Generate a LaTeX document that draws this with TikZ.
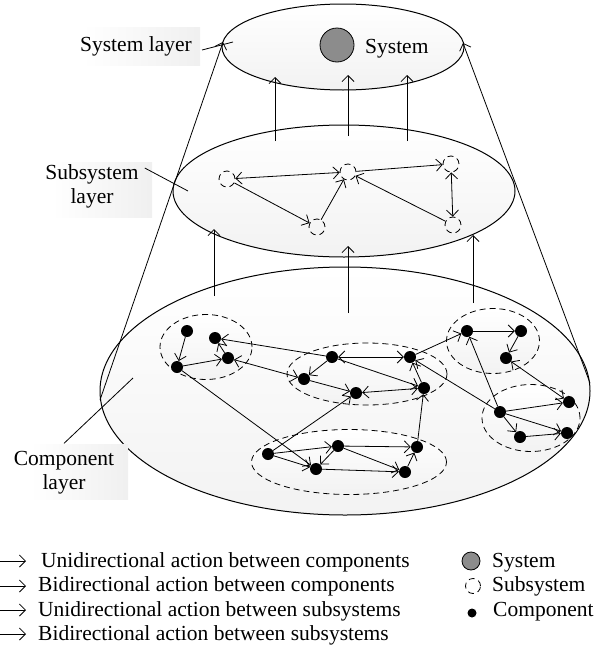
\documentclass[tikz,border=0pt]{standalone}
\usepackage{fontspec}
\setmainfont{Liberation Serif}
\usetikzlibrary{arrows.meta,shapes.geometric}
\begin{document}
\begin{tikzpicture}[x=1pt,y=-1pt,
  txt/.style={font=\fontsize{21.5}{24}\selectfont, inner sep=0pt},
  ln/.style={line width=0.8pt},
  arr/.style={ln,-{Straight Barb[length=6pt,width=12pt]}},
  barr/.style={ln,{Straight Barb[length=6pt,width=12pt]}-{Straight Barb[length=6pt,width=12pt]}},
  comp/.style={circle,fill=black,inner sep=0pt,minimum size=12pt},
  subs/.style={circle,draw,dash pattern=on 6pt off 4pt,line width=0.8pt,inner sep=0pt,minimum size=16pt},
  layer/.style={ellipse,draw,line width=1pt,top color=white,bottom color=black!5,inner sep=0pt},
  clus/.style={ellipse,draw,dash pattern=on 6pt off 4pt,line width=0.8pt,top color=white,bottom color=black!5,inner sep=0pt},
  labbox/.style={left color=white,right color=black!6}
]
\useasboundingbox (0,0) rectangle (596,656);

% layer ellipses
\node[layer,minimum width=490pt,minimum height=248pt] (compL) at (345,391) {};
\node[layer,minimum width=342pt,minimum height=132pt] (subL) at (344,191) {};
\node[layer,minimum width=242pt,minimum height=86pt] (sysL) at (343,47) {};

% cone lines
\coordinate (coneLt) at (223,42);
\coordinate (coneLb) at (100,400);
\coordinate (coneRt) at (463,43);
\coordinate (coneRb) at (590,383);
\draw[arr] (coneLb) -- (coneLt);
\draw[arr] (coneRb) -- (coneRt);

% system
\node[circle,draw,line width=0.8pt,fill=black!45,minimum size=34pt,inner sep=0pt] (sys) at (337,45) {};
\node[txt,anchor=base west] (systxt) at (365,53) {System};

% arrows subsystem -> system
\coordinate (u1s) at (275,141); \coordinate (u1e) at (275,77);
\coordinate (u2s) at (348,136); \coordinate (u2e) at (348,75);
\coordinate (u3s) at (407,141); \coordinate (u3e) at (407,75);
\draw[arr] (u1s) -- (u1e);
\draw[arr] (u2s) -- (u2e);
\draw[arr] (u3s) -- (u3e);

% arrows component -> subsystem
\coordinate (v1s) at (214,296); \coordinate (v1e) at (214,229);
\coordinate (v2s) at (348,313); \coordinate (v2e) at (348,246);
\coordinate (v3s) at (473,303); \coordinate (v3e) at (473,235);
\draw[arr] (v1s) -- (v1e);
\draw[arr] (v2s) -- (v2e);
\draw[arr] (v3s) -- (v3e);

% subsystem nodes
\node[subs] (S1) at (227,179) {};
\node[subs] (S2) at (348,172) {};
\node[subs] (S3) at (451,164) {};
\node[subs] (S4) at (317,227) {};
\node[subs] (S5) at (453,225) {};
\draw[barr] (S1) -- (S2);
\draw[arr] (S1) -- (S4);
\draw[arr] (S4) -- (S2);
\draw[arr] (S2) -- (S3);
\draw[arr] (S5) -- (S2);
\draw[barr] (S3) -- (S5);

% clusters
\node[clus,minimum width=92pt,minimum height=65pt] (clA) at (206,347) {};
\node[clus,minimum width=160pt,minimum height=62pt] (clB) at (367,374) {};
\node[clus,minimum width=93pt,minimum height=65pt] (clC) at (493,341) {};
\node[clus,minimum width=98pt,minimum height=67pt] (clD) at (531,418) {};
\node[clus,minimum width=195pt,minimum height=65pt] (clE) at (349,462) {};

% components
\node[comp] (a1) at (187,331) {};
\node[comp] (a2) at (215,338) {};
\node[comp] (a3) at (228,358) {};
\node[comp] (a4) at (177,367) {};
\node[comp] (b1) at (304,379) {};
\node[comp] (b2) at (332,357) {};
\node[comp] (b3) at (410,357) {};
\node[comp] (b4) at (356,393) {};
\node[comp] (b5) at (424,388) {};
\node[comp] (c1) at (467,331) {};
\node[comp] (c2) at (521,331) {};
\node[comp] (c3) at (506,358) {};
\node[comp] (d1) at (500,412) {};
\node[comp] (d2) at (569,402) {};
\node[comp] (d3) at (520,437) {};
\node[comp] (d4) at (567,433) {};
\node[comp] (e1) at (268,454) {};
\node[comp] (e2) at (316,469) {};
\node[comp] (e3) at (338,446) {};
\node[comp] (e4) at (417,447) {};
\node[comp] (e5) at (405,472) {};

\draw[arr] (a1) -- (a4);
\draw[arr] (a4) -- (a3);
\draw[arr] (a3) -- (a2);
\draw[arr] (b2) -- (a2);
\draw[barr] (a3) -- (b1);
\draw[arr] (a4) -- (e2);
\draw[arr] (b2) -- (b1);
\draw[barr] (b2) -- (b3);
\draw[arr] (b1) -- (b4);
\draw[barr] (b4) -- (b5);
\draw[arr] (b2) -- (b5);
\draw[arr] (b5) -- (b3);
\draw[arr] (b3) -- (c1);
\draw[arr] (d1) -- (b3);
\draw[arr] (d1) -- (c1);
\draw[arr] (c1) -- (c2);
\draw[arr] (c2) -- (c3);
\draw[barr] (c3) -- (d2);
\draw[arr] (d1) -- (d2);
\draw[arr] (d1) -- (d3);
\draw[arr] (d1) -- (d4);
\draw[arr] (d3) -- (d4);
\draw[arr] (e1) -- (b4);
\draw[arr] (e1) -- (e3);
\draw[arr] (e1) -- (e2);
\draw[arr] (e3) -- (e2);
\draw[arr] (e3) -- (e4);
\draw[arr] (e3) -- (e5);
\draw[arr] (e2) -- (e5);
\draw[arr] (e5) -- (e4);
\draw[arr] (e4) -- (b5);

% labels
\shade[labbox] (83,27) rectangle (200,65);
\node[txt] (sysLab) at (136,46) {System layer};
\coordinate (sysPt) at (233,42);
\draw[ln] ([yshift=-4pt]sysLab.east) ++(10pt,0pt) -- (sysPt);

\shade[labbox] (52,162) rectangle (152,217);
\node[txt,align=center] (subLab) at (92,186) {Subsystem\\layer};
\coordinate (subPt) at (188,191);
\draw[ln] ([xshift=6pt,yshift=-4pt]subLab.north east) -- (subPt);

\shade[labbox] (30,444) rectangle (128,499);
\node[txt,align=center] (compLab) at (64,473) {Component\\layer};
\coordinate (compPt) at (133,378);
\draw[ln] ([yshift=8pt]compLab.north) -- (compPt);

% legend
\coordinate (l1a) at (0,561); \coordinate (l1b) at (26,561);
\coordinate (l2a) at (0,586); \coordinate (l2b) at (26,586);
\coordinate (l3a) at (0,610); \coordinate (l3b) at (26,610);
\coordinate (l4a) at (0,634); \coordinate (l4b) at (26,634);
\draw[arr] (l1a) -- (l1b);
\draw[arr] (l2a) -- (l2b);
\draw[arr] (l3a) -- (l3b);
\draw[arr] (l4a) -- (l4b);
\node[txt,anchor=base west] (t1) at (41,567) {Unidirectional action between components};
\node[txt,anchor=base west] (t2) at (38,591.5) {Bidirectional action between components};
\node[txt,anchor=base west] (t3) at (38,616) {Unidirectional action between subsystems};
\node[txt,anchor=base west] (t4) at (38,640) {Bidirectional action between subsystems};

\node[circle,draw,line width=0.8pt,fill=black!45,minimum size=18pt,inner sep=0pt] (lgS) at (471,561) {};
\node[circle,draw,dash pattern=on 6pt off 4pt,line width=0.8pt,minimum size=15pt,inner sep=0pt] (lgSub) at (473,586) {};
\node[circle,fill=black,minimum size=9pt,inner sep=0pt] (lgC) at (472,613) {};
\node[txt,anchor=base west] (lt1) at (492,567) {System};
\node[txt,anchor=base west] (lt2) at (492,591.5) {Subsystem};
\node[txt,anchor=base west] (lt3) at (493,616) {Component};
\end{tikzpicture}
\end{document}
